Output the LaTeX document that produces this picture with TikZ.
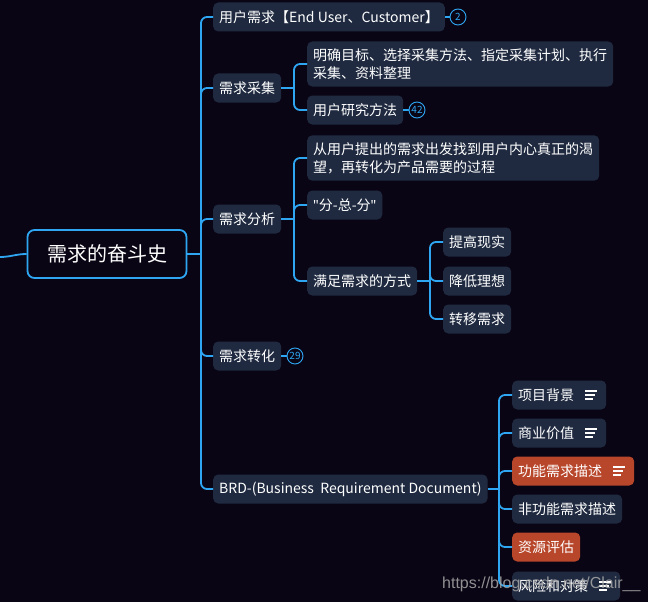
\documentclass[tikz,border=0pt]{standalone}
\usepackage{fontspec}
\setmainfont{Noto Sans CJK SC}
\newfontfamily\latinfont{Noto Sans}
\newfontfamily\wmfont{Liberation Sans}
\definecolor{bg}{HTML}{0A0514}
\definecolor{box}{HTML}{1F2A40}
\definecolor{wire}{HTML}{2EA6F2}
\definecolor{hot}{HTML}{B8462A}
\definecolor{mark}{HTML}{A8A8A8}
\tikzset{
  topic/.style={fill=box, rounded corners=5pt, text=white, font=\fontsize{14}{18}\selectfont,
    inner xsep=6pt, inner ysep=7pt, minimum height=29pt, anchor=west, align=left},
  hottopic/.style={topic, fill=hot},
  link/.style={draw=wire, line width=1.8pt, rounded corners=6pt},
  badge/.style={circle, draw=wire, line width=0.9pt, text=wire, inner sep=0pt, minimum size=16pt,
    font=\fontsize{10}{10}\selectfont},
  notes/.style={draw=white, line width=1.3pt}
}
\begin{document}
\begin{tikzpicture}[x=1pt,y=-1pt]
\path[use as bounding box, clip] (0,0) rectangle (648,602);
\fill[bg] (0,0) rectangle (648,602);
% root
\node[draw=wire, line width=1.8pt, rounded corners=7pt, fill=bg, text=white, minimum width=159pt, minimum height=48pt,
  font=\fontsize{20}{20}\selectfont] (root) at (107,254) {需求的奋斗史};
\coordinate (in) at (0,257);
\draw[link] (in) to[out=0,in=180] (root.west);
% first level
\node[topic] (user) at (213,17) {用户需求【End User、Customer】};
\node[topic] (collect) at (213,88) {需求采集};
\node[topic] (analyse) at (213,219) {需求分析};
\node[topic] (convert) at (213,356) {需求转化};
\node[topic] (brd) at (213,489) {BRD-(Business\ \ Requirement Document)};
\coordinate (j0) at (201,254);
\draw[link] (root.east) -- (j0);
\foreach \n in {user,collect,analyse,convert,brd}
  \draw[link] (j0) |- (\n.west);
% badges
\node[badge] (b1) at (458,17) {2};
\node[badge] (b4) at (295,356) {29};
\draw[link] (user.east) -- (b1);
\draw[link] (convert.east) -- (b4);
% collect
\node[topic] (steps) at (307,64) {明确目标、选择采集方法、指定采集计划、执行\\采集、资料整理};
\node[topic] (method) at (307,110) {用户研究方法};
\node[badge] (b2) at (417,110) {42};
\draw[link] (method.east) -- (b2);
\coordinate (j1) at (294,88);
\draw[link] (collect.east) -- (j1);
\foreach \n in {steps,method}
  \draw[link] (j1) |- (\n.west);
% analyse
\node[topic] (desire) at (307,158) {从用户提出的需求出发找到用户内心真正的渴\\望，再转化为产品需要的过程};
\node[topic] (split) at (307,205) {{\latinfont\char34}分-总-分{\latinfont\char34}};
\node[topic] (ways) at (307,281) {满足需求的方式};
\coordinate (j2) at (294,219);
\draw[link] (analyse.east) -- (j2);
\foreach \n in {desire,split,ways}
  \draw[link] (j2) |- (\n.west);
\node[topic] (w1) at (443,242) {提高现实};
\node[topic] (w2) at (443,281) {降低理想};
\node[topic] (w3) at (443,319) {转移需求};
\coordinate (j3) at (430,281);
\draw[link] (ways.east) -- (j3);
\foreach \n in {w1,w2,w3}
  \draw[link] (j3) |- (\n.west);
% brd
\node[topic] (r1) at (512,395) {项目背景\hspace{26pt}};
\node[topic] (r2) at (512,433) {商业价值\hspace{26pt}};
\node[hottopic] (r3) at (512,471) {功能需求描述\hspace{26pt}};
\node[topic] (r4) at (512,509) {非功能需求描述};
\node[hottopic] (r5) at (512,547) {资源评估};
\node[topic] (r6) at (512,586) {风险和对策\hspace{26pt}};
\coordinate (j4) at (499,489);
\draw[link] (brd.east) -- (j4);
\foreach \n in {r1,r2,r3,r4,r5,r6}
  \draw[link] (j4) |- (\n.west);
\foreach \n in {r1,r2,r3,r6} {
  \draw[notes] ([xshift=-21pt]\n.east) ++(0,-4) -- ++(12,0);
  \draw[notes] ([xshift=-21pt]\n.east) -- ++(10,0);
  \draw[notes] ([xshift=-21pt]\n.east) ++(0,4) -- ++(8,0);
}
% watermark
\node[text=mark, opacity=0.85, font=\wmfont\fontsize{16}{16}\selectfont, anchor=west, inner sep=0pt] (wm) at (442,584) {https://blog.csdn.net/Clair\_\_};
\end{tikzpicture}
\end{document}
